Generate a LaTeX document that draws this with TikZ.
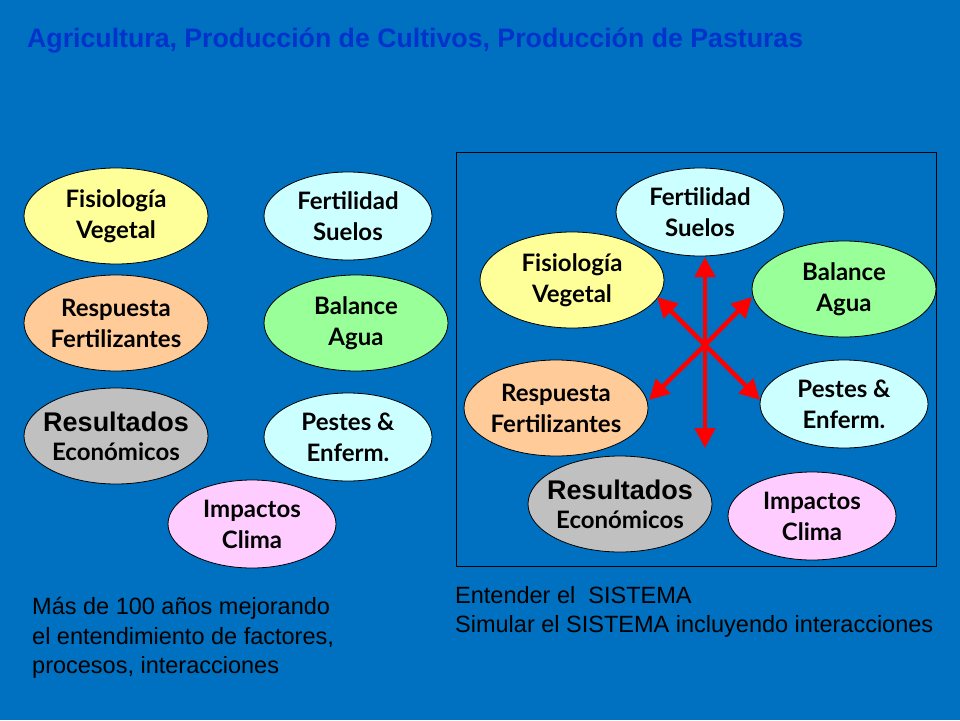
\documentclass[tikz,border=0pt]{standalone}
\usepackage{fontspec}
\setmainfont{Liberation Sans}
\newfontfamily\ellf{Lato}
\usetikzlibrary{shapes.geometric,arrows.meta}
\definecolor{bg}{HTML}{0070C0}
\definecolor{ttl}{HTML}{0033CC}
\definecolor{cyel}{HTML}{FFFF99}
\definecolor{ccya}{HTML}{CCFFFF}
\definecolor{cora}{HTML}{FFCC99}
\definecolor{cgre}{HTML}{99FF99}
\definecolor{cgry}{HTML}{C0C0C0}
\definecolor{cpin}{HTML}{FFCCFF}
\tikzset{
  ell/.style={ellipse,draw=black,line width=0.8pt,inner xsep=-14pt,inner ysep=-6pt,align=center,
    font=\ellf\bfseries\fontsize{24}{31}\selectfont,text=black},
  big/.style={ell,minimum width=184pt,minimum height=96pt},
  sml/.style={ell,minimum width=168pt,minimum height=88pt},
  rarr/.style={red,line width=4.5pt,-{Triangle[width=20pt,length=20pt]}},
  plain/.style={font=\fontsize{23.5}{29.5}\selectfont,text=black,align=left,inner sep=0pt,anchor=north west}
}
\newcommand{\resl}{{\rmfamily\bfseries\fontsize{27}{29}\selectfont Resultados}\\[-2pt]Económicos}
\begin{document}
\begin{tikzpicture}[x=1pt,y=-1pt]
\fill[bg] (0,0) rectangle (960,720);
\useasboundingbox (0,0) rectangle (960,720);
\node[anchor=base west,inner sep=0pt,text=ttl,font=\bfseries\fontsize{26.7}{30}\selectfont] (title) at (27,47) {Agricultura, Producción de Cultivos, Producción de Pasturas};
% left group
\node[big,fill=cyel] (fisL) at (116,216) {Fisiología\\Vegetal};
\node[sml,fill=ccya] (ferL) at (348,216) {Fertilidad\\Suelos};
\node[big,fill=cora] (resL) at (116,323) {Respuesta\\Fertilizantes};
\node[big,fill=cgre] (balL) at (356,323) {Balance\\Agua};
\node[big,fill=cgry] (ecoL) at (116,436) {\resl};
\node[sml,fill=ccya] (pesL) at (348,437) {Pestes \&\\Enferm.};
\node[sml,fill=cpin] (impL) at (252,524) {Impactos\\Clima};
% right box
\draw[black,line width=0.8pt] (456,152) rectangle (936,566);
\node[sml,fill=ccya] (ferR) at (700,212) {Fertilidad\\Suelos};
\node[big,fill=cyel] (fisR) at (572,280) {Fisiología\\Vegetal};
\node[big,fill=cgre] (balR) at (844,289) {Balance\\Agua};
\node[big,fill=cora] (resR) at (556,408) {Respuesta\\Fertilizantes};
\node[sml,fill=ccya] (pesR) at (844,404) {Pestes \&\\Enferm.};
\node[big,fill=cgry] (ecoR) at (620,504) {\resl};
\node[sml,fill=cpin] (impR) at (812,516) {Impactos\\Clima};
% arrows
\coordinate (c) at (705,345);
\coordinate (tU) at (705,257);
\coordinate (tD) at (705,448);
\coordinate (tUL) at (657,297);
\coordinate (tUR) at (752,297);
\coordinate (tDL) at (649,400);
\coordinate (tDR) at (760,400);
\draw[rarr] (c) -- (tU);
\draw[rarr] (c) -- (tD);
\draw[rarr] (c) -- (tUL);
\draw[rarr] (c) -- (tUR);
\draw[rarr] (c) -- (tDL);
\draw[rarr] (c) -- (tDR);
% bottom texts
\node[plain] (txtL) at (32,597) {Más de 100 años mejorando\\el entendimiento de factores,\\procesos, interacciones};
\node[plain] (txtR) at (455,586) {Entender el\ \ SISTEMA\\Simular el SISTEMA\ incluyendo interacciones};
\end{tikzpicture}
\end{document}
